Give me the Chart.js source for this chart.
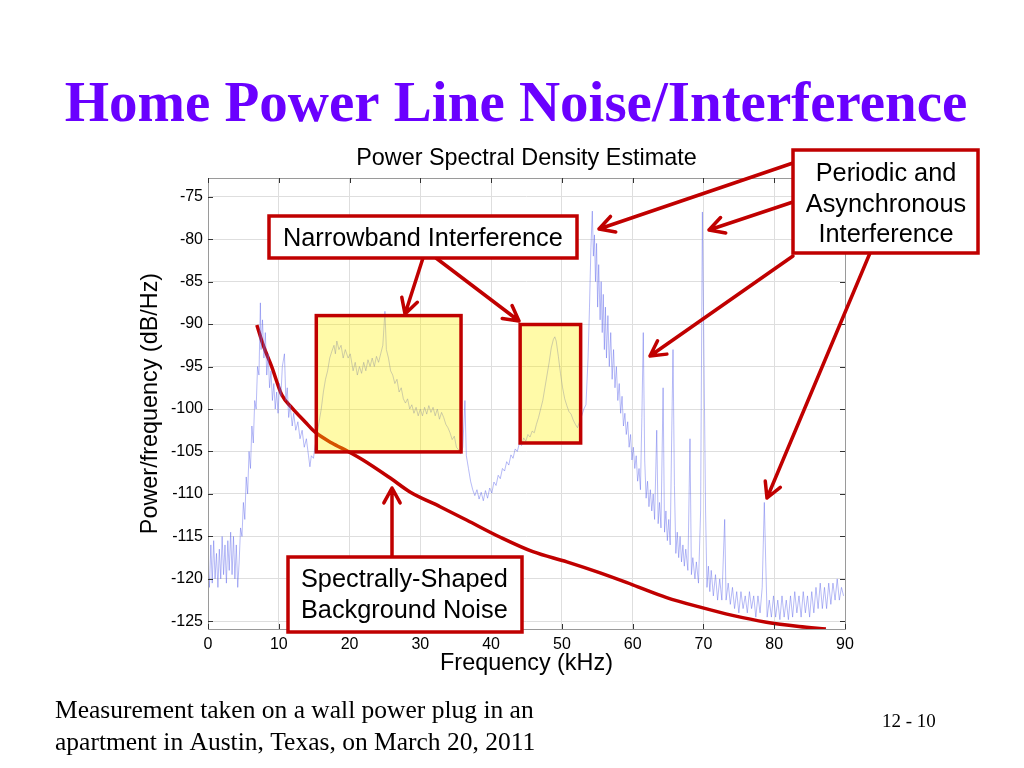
<!DOCTYPE html>
<html lang="en">
<head>
  <meta charset="UTF-8">
  <title>Home Power Line Noise/Interference</title>
  <script src="https://cdn.jsdelivr.net/npm/chart.js"></script>
  <style>
    html, body { margin: 0; padding: 0; background: #fff; }
    #slide { display: block; }
  </style>
</head>
<body>
  <canvas id="slide" width="1024" height="768"></canvas>

  <script>
    // PSD trace: [frequency kHz, dB/Hz]
    const psdTrace = [
      [0.0,-118.5],[0.2,-121],[0.4,-116],[0.6,-120.5],[0.8,-115.5],[1.0,-120],[1.2,-117],[1.4,-121],[1.6,-116.5],[1.8,-120],
      [2.0,-115],[2.2,-119.5],[2.4,-116],[2.6,-120.5],[2.8,-115.5],[3.0,-119],[3.2,-114.5],[3.4,-119.5],[3.6,-115],[3.8,-120],
      [4.0,-116],[4.2,-121],[4.4,-118],[4.6,-114],[4.8,-115],[5.0,-111],[5.2,-113],[5.4,-108],[5.6,-110],[5.8,-105],
      [6.0,-107],[6.2,-102],[6.4,-104],[6.6,-99],[6.8,-100],[7.0,-95],[7.2,-96],[7.4,-87.5],[7.5,-93],[7.7,-89.5],
      [7.9,-94],[8.1,-91],[8.3,-96],[8.5,-93.5],[8.7,-97.5],[8.9,-95.5],[9.1,-99],[9.3,-97],[9.5,-100],[9.7,-98],
      [9.9,-100.5],[10.1,-97],[10.3,-98.5],[10.5,-95],[10.8,-93.5],[11.0,-99],[11.2,-97.5],[11.4,-101],[11.6,-99.5],[11.9,-102],
      [12.1,-100.5],[12.4,-102.5],[12.7,-101.5],[13.0,-103.5],[13.3,-102.5],[13.6,-104.5],[13.9,-103.5],[14.2,-105.5],[14.4,-106.8],[14.6,-105.5],
      [14.9,-105.8],[15.1,-104.5],[15.4,-103],[15.7,-101.5],[16.0,-100],[16.3,-98],[16.6,-96.5],[16.9,-95.5],[17.2,-94],[17.5,-93.2],
      [17.8,-92.5],[18.0,-93.5],[18.2,-92],[18.5,-93],[18.8,-92.5],[19.1,-94],[19.4,-93],[19.8,-94],[20.1,-93.5],[20.5,-95.5],
      [20.8,-94.5],[21.1,-96],[21.4,-95],[21.7,-95.8],[22.0,-94.5],[22.3,-95.5],[22.6,-94.2],[22.9,-95],[23.2,-94],[23.5,-95],
      [23.8,-93.8],[24.1,-94.5],[24.4,-93.5],[24.7,-92.5],[25.0,-88.5],[25.2,-93],[25.5,-94],[25.8,-95.5],[26.1,-96],[26.4,-97],
      [26.7,-96.5],[27.0,-98],[27.3,-97.5],[27.6,-98.8],[27.9,-99.3],[28.2,-98.8],[28.5,-100],[28.8,-99.5],[29.1,-100.5],[29.4,-99.8],
      [29.7,-100.8],[30.0,-100],[30.3,-100.8],[30.6,-99.8],[30.9,-100.6],[31.2,-99.6],[31.5,-100.4],[31.8,-99.8],[32.1,-100.8],[32.4,-100],
      [32.7,-101.2],[33.0,-100.4],[33.3,-101],[33.6,-101.8],[33.9,-102.2],[34.2,-102.8],[34.5,-103.6],[34.8,-103.2],[35.1,-104.5],[35.4,-104.8],
      [35.7,-105.3],[36.0,-104.5],[36.3,-99],[36.5,-105.5],[36.8,-107],[37.1,-108.5],[37.4,-109.5],[37.7,-110.2],[38.0,-109.5],[38.3,-110.6],
      [38.6,-109.8],[38.9,-110.8],[39.2,-109.6],[39.5,-110.5],[39.8,-109.3],[40.1,-109.9],[40.4,-108.6],[40.7,-109],[41.0,-107.8],[41.3,-108.2],
      [41.6,-107],[41.9,-107.3],[42.2,-106.2],[42.5,-106.6],[42.8,-105.4],[43.1,-105.8],[43.4,-104.7],[43.7,-105],[44.0,-104],[44.3,-104.3],
      [44.6,-103.4],[44.9,-103.8],[45.2,-103],[45.5,-103.3],[45.8,-102.6],[46.1,-102.8],[46.4,-101.8],[46.7,-101],[47.0,-100],[47.3,-99],
      [47.6,-97.5],[47.9,-96],[48.2,-94.5],[48.5,-92.8],[48.8,-91.8],[49.0,-91.5],[49.2,-92],[49.5,-93.8],[49.8,-95.8],[50.1,-97.5],
      [50.4,-98.8],[50.7,-99.6],[51.0,-100.3],[51.3,-100.6],[51.6,-101.3],[51.9,-101.8],[52.2,-102.2],[52.5,-101.5],[52.8,-100.8],[53.1,-100],
      [53.4,-99.5],[53.7,-94],[53.9,-88],[54.1,-81],[54.3,-76.7],[54.45,-82],[54.6,-79.5],[54.75,-85],[54.9,-80.5],[55.05,-88],
      [55.2,-83],[55.4,-89.5],[55.55,-85],[55.7,-91],[55.85,-86.5],[56.0,-93],[56.15,-88],[56.3,-94],[56.5,-89],[56.7,-95],
      [56.9,-91],[57.1,-96.5],[57.3,-93],[57.5,-97.5],[57.7,-95],[57.9,-99],[58.1,-97],[58.3,-100.5],[58.5,-98.5],[58.7,-102],
      [58.9,-100.5],[59.1,-103],[59.3,-101.5],[59.5,-104.5],[59.7,-103],[59.9,-106],[60.1,-104.5],[60.3,-107],[60.5,-105.5],[60.7,-108.5],
      [60.9,-107],[61.1,-109.5],[61.3,-101],[61.5,-91],[61.7,-106],[61.9,-110.5],[62.1,-108.5],[62.3,-111.5],[62.5,-109.5],[62.7,-112],
      [62.9,-110],[63.1,-113],[63.4,-102.5],[63.6,-113.5],[63.8,-111],[64.0,-114],[64.3,-97.5],[64.5,-114.5],[64.7,-112],[64.9,-115.5],
      [65.1,-113],[65.3,-116],[65.5,-104],[65.7,-93],[65.9,-109],[66.1,-117],[66.3,-114.5],[66.5,-117.5],[66.7,-115],[66.9,-118],
      [67.1,-116],[67.3,-118.5],[67.5,-116.5],[67.8,-119],[68.1,-103.5],[68.3,-119.5],[68.5,-117.5],[68.8,-120],[69.0,-118],[69.3,-120.5],
      [69.6,-112],[69.85,-76.8],[70.0,-88],[70.15,-100],[70.3,-112],[70.5,-121],[70.7,-118.5],[70.9,-121.5],[71.1,-119],[71.4,-122],
      [71.7,-119.5],[72.0,-122.5],[72.3,-120],[72.6,-122.5],[73.0,-113],[73.2,-122.5],[73.5,-120.5],[73.8,-123],[74.1,-121],[74.4,-123.5],
      [74.7,-121.5],[75.0,-124],[75.3,-121.5],[75.6,-123.5],[75.9,-122],[76.2,-124],[76.5,-121.5],[76.8,-123.5],[77.1,-122],[77.4,-124.5],
      [77.7,-122],[78.0,-124],[78.3,-121],[78.6,-111],[78.8,-118],[79.0,-124.5],[79.3,-122.5],[79.6,-124.5],[79.9,-122],[80.2,-124.5],
      [80.5,-122.5],[80.8,-124.8],[81.1,-122],[81.4,-124.5],[81.7,-122.5],[82.0,-124.8],[82.3,-122],[82.6,-124.5],[82.9,-121.5],[83.2,-124],
      [83.5,-122],[83.8,-124.5],[84.1,-121.5],[84.4,-124],[84.7,-122],[85.0,-124.5],[85.3,-121.5],[85.6,-124],[85.9,-121],[86.2,-123.5],
      [86.5,-120.5],[86.8,-123.5],[87.1,-121],[87.4,-123.5],[87.7,-120.5],[88.0,-123],[88.3,-120.5],[88.6,-122.5],[88.9,-120],[89.2,-122.5],
      [89.5,-121],[89.8,-122]
    ];

    // hand-drawn background noise curve: [kHz, dB/Hz]
    const noiseFloor = [
      [6.9,-90.1],[7.85,-92.6],[9.0,-95.0],[10.4,-98.3],[11.9,-99.9],[13.7,-101.5],[15.1,-102.7],[17.5,-104.0],
      [19.8,-105.0],[21.9,-106.0],[25.7,-108.1],[28.6,-109.8],[32.8,-111.5],[36.6,-113.1],[41.3,-115.1],[45.9,-116.8],
      [50.7,-118.0],[55.4,-119.3],[60.0,-120.7],[64.8,-122.2],[69.4,-123.3],[74.1,-124.3],[78.9,-125.1],[83.5,-125.6],
      [87.3,-125.9]
    ];

    const xTicks = [0, 10, 20, 30, 40, 50, 60, 70, 80, 90];
    const yTicks = [-125, -120, -115, -110, -105, -100, -95, -90, -85, -80, -75];

    // highlighted regions [kHz from, kHz to, dB low, dB high]
    const narrowbandBoxes = [
      [15.3, 35.75, -105.05, -89.0],
      [44.1, 52.65, -104.0, -90.05]
    ];

    const RED = '#c00000';

    function arrow(ctx, x1, y1, x2, y2) {
      const ang = Math.atan2(y2 - y1, x2 - x1);
      const len = 17, spread = 0.5;
      ctx.beginPath();
      ctx.moveTo(x1, y1);
      ctx.lineTo(x2, y2);
      ctx.moveTo(x2 - len * Math.cos(ang - spread), y2 - len * Math.sin(ang - spread));
      ctx.lineTo(x2, y2);
      ctx.lineTo(x2 - len * Math.cos(ang + spread), y2 - len * Math.sin(ang + spread));
      ctx.stroke();
    }

    function labelBox(ctx, x, y, w, h) {
      ctx.fillStyle = '#fff';
      ctx.fillRect(x, y, w, h);
      ctx.strokeRect(x, y, w, h);
    }

    const slidePlugin = {
      id: 'slide',
      beforeDraw(chart) {
        const ctx = chart.ctx;
        ctx.save();
        ctx.fillStyle = '#fff';
        ctx.fillRect(0, 0, chart.width, chart.height);
        ctx.restore();
      },
      afterDatasetsDraw(chart) {
        const { ctx, chartArea: a, scales: { x, y } } = chart;
        ctx.save();
        // yellow highlight boxes over the trace
        narrowbandBoxes.forEach(b => {
          const x0 = x.getPixelForValue(b[0]), x1 = x.getPixelForValue(b[1]);
          const y0 = y.getPixelForValue(b[3]), y1 = y.getPixelForValue(b[2]);
          ctx.fillStyle = 'rgba(255,240,0,0.34)';
          ctx.fillRect(x0, y0, x1 - x0, y1 - y0);
          ctx.strokeStyle = RED;
          ctx.lineWidth = 3.5;
          ctx.strokeRect(x0, y0, x1 - x0, y1 - y0);
        });
        // axes box and inward ticks
        ctx.strokeStyle = '#9a9a9a';
        ctx.lineWidth = 1;
        ctx.strokeRect(a.left + 0.5, a.top + 0.5, a.right - a.left, a.bottom - a.top);
        ctx.strokeStyle = '#333';
        ctx.beginPath();
        xTicks.forEach(v => {
          const px = Math.round(x.getPixelForValue(v)) + 0.5;
          ctx.moveTo(px, a.top); ctx.lineTo(px, a.top + 5);
          ctx.moveTo(px, a.bottom); ctx.lineTo(px, a.bottom - 5);
        });
        yTicks.forEach(v => {
          const py = Math.round(y.getPixelForValue(v)) + 0.5;
          ctx.moveTo(a.left, py); ctx.lineTo(a.left + 5, py);
          ctx.moveTo(a.right, py); ctx.lineTo(a.right - 5, py);
        });
        ctx.stroke();
        ctx.restore();
      },
      afterDraw(chart) {
        const { ctx, chartArea: a } = chart;
        ctx.save();

        // slide title
        ctx.fillStyle = '#6a00ff';
        ctx.font = 'bold 57px "Liberation Serif"';
        ctx.textAlign = 'center';
        ctx.textBaseline = 'alphabetic';
        ctx.fillText('Home Power Line Noise/Interference', 516, 121);

        // plot title
        ctx.fillStyle = '#000';
        ctx.font = '23.4px "Liberation Sans"';
        ctx.fillText('Power Spectral Density Estimate', (a.left + a.right) / 2, 165);

        // footer
        ctx.textAlign = 'left';
        ctx.font = '25.5px "Liberation Serif"';
        ctx.fillText('Measurement taken on a wall power plug in an', 55, 718);
        ctx.fillText('apartment in Austin, Texas, on March 20, 2011', 55, 750);
        ctx.font = '19px "Liberation Serif"';
        ctx.fillText('12 - 10', 882, 727);

        // arrows
        ctx.strokeStyle = RED;
        ctx.lineWidth = 3.5;
        ctx.lineCap = 'round';
        ctx.lineJoin = 'round';
        arrow(ctx, 423, 258, 405, 314);
        arrow(ctx, 436, 258, 519, 321);
        arrow(ctx, 793, 163, 599, 229);
        arrow(ctx, 793, 202, 709, 230);
        arrow(ctx, 793, 256, 650, 356);
        arrow(ctx, 870, 253, 767, 498);
        arrow(ctx, 392, 557, 392, 488);

        // label boxes
        ctx.lineCap = 'butt';
        ctx.lineJoin = 'miter';
        labelBox(ctx, 269, 216, 308, 42);
        labelBox(ctx, 793, 150, 185, 103);
        labelBox(ctx, 288, 557, 234, 75);

        ctx.fillStyle = '#000';
        ctx.font = '25.3px "Liberation Sans"';
        ctx.textAlign = 'left';
        ctx.fillText('Narrowband Interference', 283, 246);
        ctx.fillText('Spectrally-Shaped', 301, 587);
        ctx.fillText('Background Noise', 301, 618);
        ctx.textAlign = 'center';
        ctx.fillText('Periodic and', 886, 181);
        ctx.fillText('Asynchronous', 886, 212);
        ctx.fillText('Interference', 886, 242);
        ctx.restore();
      }
    };

    const ctx = document.getElementById('slide').getContext('2d');
    new Chart(ctx, {
      type: 'line',
      data: {
        datasets: [
          {
            label: 'PSD',
            data: psdTrace.map(p => ({ x: p[0], y: p[1] })),
            borderColor: 'rgba(95,105,235,0.45)',
            borderWidth: 1,
            pointRadius: 0,
            tension: 0
          },
          {
            label: 'Background noise',
            data: noiseFloor.map(p => ({ x: p[0], y: p[1] })),
            borderColor: RED,
            borderWidth: 3.5,
            pointRadius: 0,
            cubicInterpolationMode: 'monotone'
          }
        ]
      },
      plugins: [slidePlugin],
      options: {
        responsive: false,
        animation: false,
        devicePixelRatio: 1,
        layout: { padding: { left: 128, right: 179, top: 178, bottom: 79 } },
        plugins: {
          legend: { display: false },
          tooltip: { enabled: false }
        },
        scales: {
          x: {
            type: 'linear',
            min: 0,
            max: 90,
            afterBuildTicks: s => { s.ticks = xTicks.map(v => ({ value: v })); },
            afterFit: s => { s.height = 60; },
            grid: { color: '#dedede', drawTicks: false },
            border: { display: false },
            ticks: { color: '#000', padding: 6, maxRotation: 0, font: { family: 'Liberation Sans', size: 16 } },
            title: {
              display: true,
              text: 'Frequency (kHz)',
              color: '#000',
              font: { family: 'Liberation Sans', size: 23.4 },
              padding: { top: 0, bottom: 11 }
            }
          },
          y: {
            min: -125.9,
            max: -72.8,
            afterBuildTicks: s => { s.ticks = yTicks.map(v => ({ value: v })); },
            afterFit: s => { s.width = 80; },
            grid: { color: '#dedede', drawTicks: false },
            border: { display: false },
            ticks: { color: '#000', padding: 5, font: { family: 'Liberation Sans', size: 16 } },
            title: {
              display: true,
              text: 'Power/frequency (dB/Hz)',
              color: '#000',
              font: { family: 'Liberation Sans', size: 23.4 },
              padding: { top: 9, bottom: 0 }
            }
          }
        }
      }
    });
  </script>
</body>
</html>
